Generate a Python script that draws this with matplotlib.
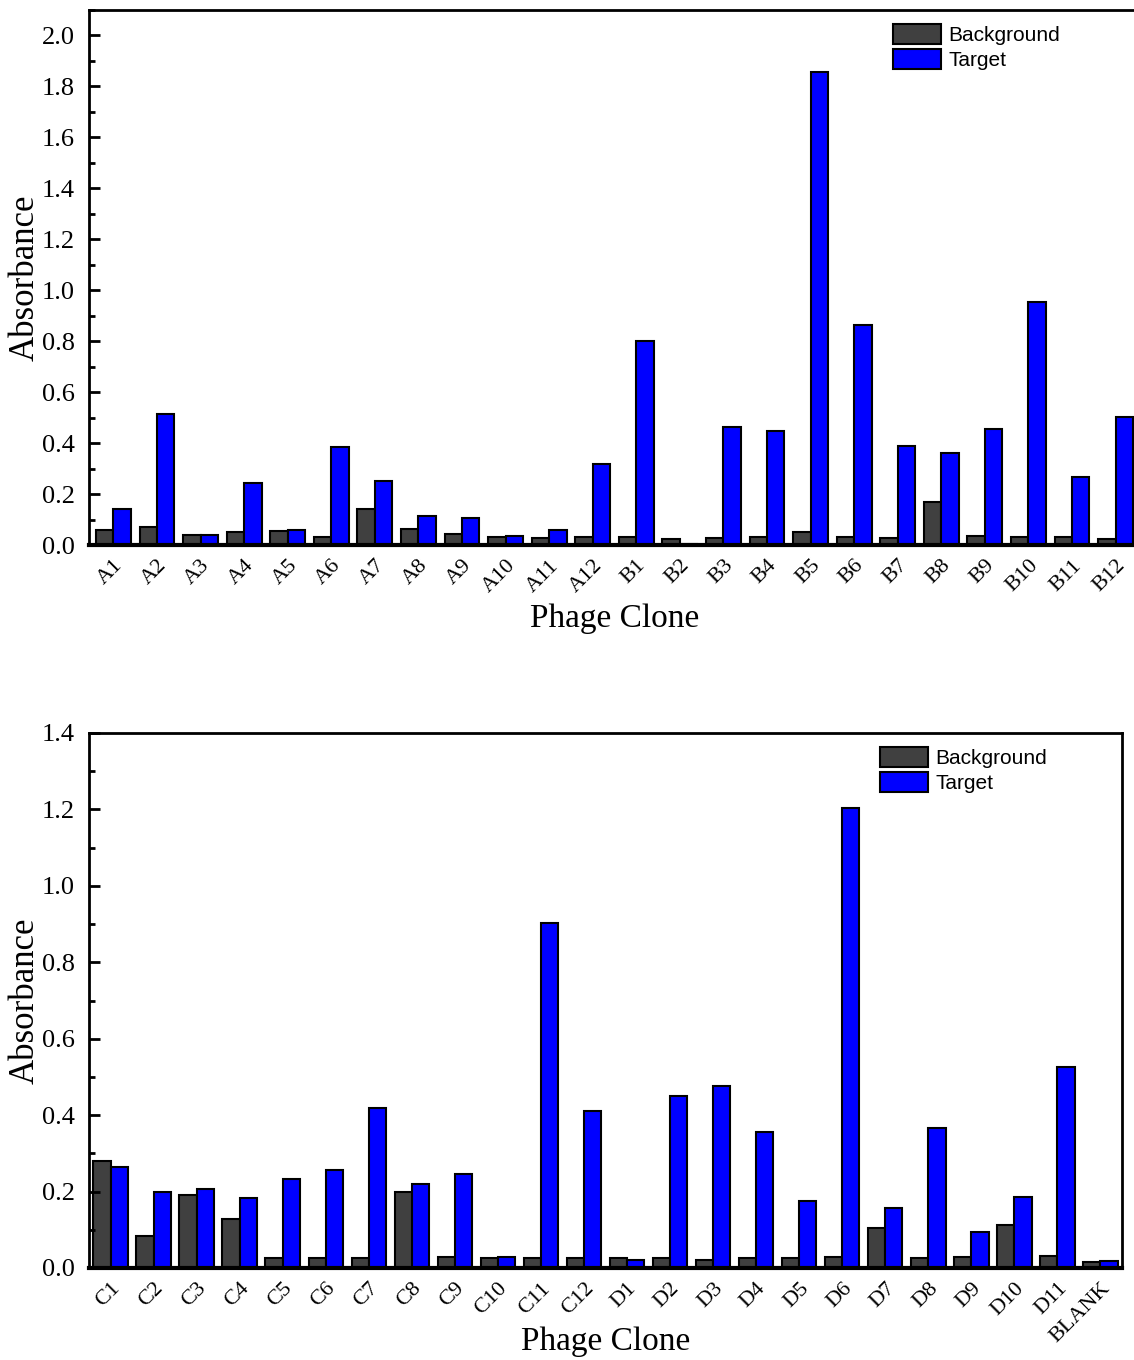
import numpy as np
import matplotlib
matplotlib.use("Agg")
import matplotlib.pyplot as plt
from matplotlib.ticker import MultipleLocator, FormatStrFormatter

# top panel data
clones_ab = ['A1', 'A2', 'A3', 'A4', 'A5', 'A6', 'A7', 'A8', 'A9', 'A10', 'A11', 'A12',
             'B1', 'B2', 'B3', 'B4', 'B5', 'B6', 'B7', 'B8', 'B9', 'B10', 'B11', 'B12']
background_ab = [0.060, 0.070, 0.040, 0.050, 0.055, 0.030, 0.140, 0.063, 0.045, 0.032, 0.028, 0.030,
                 0.030, 0.022, 0.028, 0.030, 0.050, 0.030, 0.028, 0.170, 0.035, 0.030, 0.032, 0.025]
target_ab = [0.142, 0.515, 0.040, 0.242, 0.058, 0.385, 0.250, 0.115, 0.105, 0.036, 0.060, 0.316,
             0.800, 0.005, 0.462, 0.448, 1.855, 0.862, 0.390, 0.360, 0.457, 0.955, 0.265, 0.502]

# bottom panel data
clones_cd = ['C1', 'C2', 'C3', 'C4', 'C5', 'C6', 'C7', 'C8', 'C9', 'C10', 'C11', 'C12',
             'D1', 'D2', 'D3', 'D4', 'D5', 'D6', 'D7', 'D8', 'D9', 'D10', 'D11', 'BLANK']
background_cd = [0.280, 0.085, 0.190, 0.128, 0.025, 0.027, 0.025, 0.198, 0.030, 0.025, 0.025, 0.026,
                 0.025, 0.027, 0.020, 0.025, 0.025, 0.030, 0.105, 0.025, 0.030, 0.112, 0.032, 0.015]
target_cd = [0.265, 0.200, 0.208, 0.182, 0.232, 0.256, 0.418, 0.220, 0.245, 0.030, 0.902, 0.410,
             0.020, 0.450, 0.475, 0.357, 0.175, 1.205, 0.157, 0.367, 0.095, 0.185, 0.525, 0.018]

W, H = 1134, 1360
fig = plt.figure(figsize=(W / 100, H / 100), dpi=100)

serif = ['Liberation Serif', 'DejaVu Serif']
sans = ['Liberation Sans', 'DejaVu Sans']


def draw_panel(ax, labels, bg, tg, ymax, xlim, legend_xy, width_px):
    x = np.arange(len(labels))
    w = 0.4
    ax.bar(x - w / 2, bg, w, color='#404040', edgecolor='black', linewidth=1.5, label='Background')
    ax.bar(x + w / 2, tg, w, color='#0000ff', edgecolor='black', linewidth=1.5, label='Target')
    ax.set_xlim(*xlim)
    ax.set_ylim(0, ymax)
    ax.yaxis.set_major_locator(MultipleLocator(0.2))
    ax.yaxis.set_minor_locator(MultipleLocator(0.1))
    ax.yaxis.set_major_formatter(FormatStrFormatter('%.1f'))
    ax.tick_params(axis='y', which='major', direction='in', length=8, width=2, pad=10)
    ax.tick_params(axis='y', which='minor', direction='in', length=4, width=2)
    ax.tick_params(axis='x', length=0, pad=8)
    ax.set_xticks(x)
    ax.set_xticklabels(labels, rotation=45, ha='right', rotation_mode='anchor',
                       family=serif, fontsize=16)
    for t in ax.get_yticklabels():
        t.set_family(serif)
        t.set_fontsize(19)
    for s in ['left', 'top', 'right']:
        ax.spines[s].set_linewidth(2)
    ax.spines['bottom'].set_linewidth(3)
    ax.set_ylabel('Absorbance', family=serif, fontsize=25)
    ax.yaxis.set_label_coords(-47 / width_px, 0.5)
    ax.set_xlabel('Phage Clone', family=serif, fontsize=24, va='center')
    ax.xaxis.set_label_coords(0.5, -74 / 535)
    ax.legend(loc='upper left', bbox_to_anchor=legend_xy, bbox_transform=fig.transFigure,
              frameon=False, borderpad=0, borderaxespad=0, handlelength=2.3,
              handleheight=1.1, labelspacing=0.18, handletextpad=0.35,
              prop={'family': sans, 'size': 15})


ax1 = fig.add_axes([89 / W, 1 - 545 / H, 1051 / W, 535 / H])
draw_panel(ax1, clones_ab, background_ab, target_ab, 2.1, (-0.56, 23.56),
           (893 / W, 1 - 24 / H), 1051)

ax2 = fig.add_axes([89 / W, 1 - 1268 / H, 1033 / W, 535 / H])
draw_panel(ax2, clones_cd, background_cd, target_cd, 1.4, (-0.5, 23.5),
           (880 / W, 1 - 747 / H), 1033)

fig.savefig('out.png', dpi=100)
